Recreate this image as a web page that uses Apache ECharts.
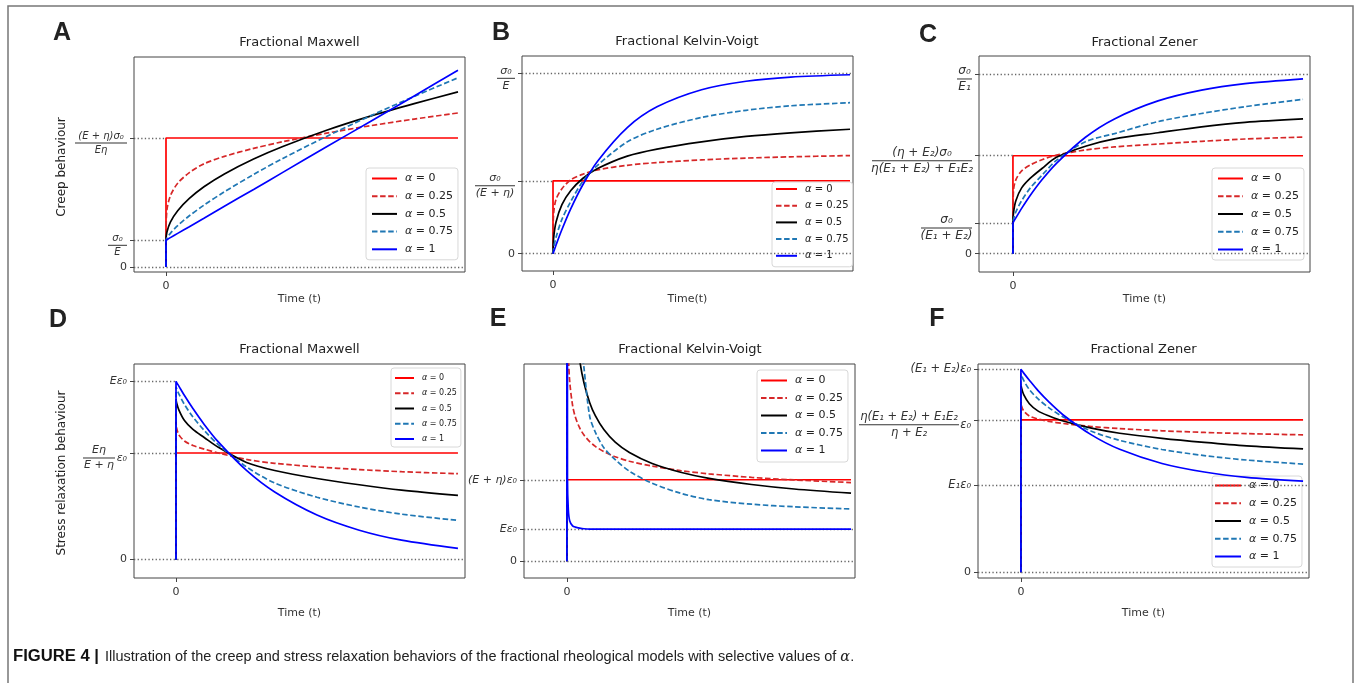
<!DOCTYPE html>
<html>
<head>
<meta charset="utf-8">
<script src="https://cdn.jsdelivr.net/npm/echarts@6/dist/echarts.min.js"></script>
<style>html,body{margin:0;padding:0;background:#fff}#c{width:1356px;height:683px}</style>
</head>
<body>
<div id="c"></div>
<script>
// ---------- data ----------
const alphas = ['α = 0', 'α = 0.25', 'α = 0.5', 'α = 0.75', 'α = 1'];

// A: creep, fractional Maxwell
const tA = [0, 0, 0.03, 0.15, 0.4, 0.8, 1.3, 2, 3, 4, 5.5, 7, 8.5, 10];
const A_a0   = [0, 4.84, 4.84, 4.84, 4.84, 4.84, 4.84, 4.84, 4.84, 4.84, 4.84, 4.84, 4.84, 4.84];
const A_a025 = [0, 1, 2.12, 2.67, 3.14, 3.54, 3.87, 4.15, 4.45, 4.70, 5.02, 5.30, 5.55, 5.78];
const A_a05  = [0, 1, 1.30, 1.68, 2.11, 2.57, 3.01, 3.49, 4.05, 4.52, 5.13, 5.66, 6.13, 6.57];
const A_a075 = [0, 1, 1.08, 1.26, 1.55, 1.92, 2.32, 2.82, 3.47, 4.07, 4.90, 5.67, 6.40, 7.10];
const A_a1   = [0, 1, 1.02, 1.10, 1.26, 1.51, 1.83, 2.28, 2.91, 3.55, 4.51, 5.46, 6.42, 7.38];
const A_ticks = [0, 1, 4.84];
const A_labels = ['0', {num: 'σ₀', den: 'E', w: 19}, {num: '(E + η)σ₀', den: 'Eη', w: 52}];
const A_guides = [[0, 1], [1, 0], [4.84, 0]];

// B: creep, fractional Kelvin-Voigt
const tB = [0, 0, 0.02, 0.1, 0.3, 0.6, 1, 1.5, 2.5, 3.5, 5, 6.5, 8, 10];
const B_a0   = [0, 0.404, 0.404, 0.404, 0.404, 0.404, 0.404, 0.404, 0.404, 0.404, 0.404, 0.404, 0.404, 0.404];
const B_a025 = [0, 0.08, 0.22, 0.30, 0.36, 0.41, 0.44, 0.465, 0.49, 0.505, 0.52, 0.53, 0.537, 0.544];
const B_a05  = [0, 0, 0.084, 0.174, 0.272, 0.35, 0.417, 0.472, 0.541, 0.58, 0.62, 0.65, 0.67, 0.69];
const B_a075 = [0, 0, 0.03, 0.09, 0.19, 0.29, 0.40, 0.49, 0.62, 0.69, 0.755, 0.795, 0.82, 0.837];
const B_a1   = [0, 0, 0.0096, 0.047, 0.134, 0.25, 0.381, 0.513, 0.699, 0.814, 0.909, 0.956, 0.979, 0.992];
const B_ticks = [0, 0.404, 1];
const B_labels = ['0', {num: 'σ₀', den: '(E + η)', w: 40}, {num: 'σ₀', den: 'E', w: 18}];
const B_guides = [[0, 1], [0.404, 0], [1, 1]];

// C: creep, fractional Zener
const tC = [0, 0, 0.02, 0.1, 0.3, 0.6, 1, 1.5, 2.5, 3.5, 5, 6.5, 8, 10];
const C_a0   = [0, 0.545, 0.545, 0.545, 0.545, 0.545, 0.545, 0.545, 0.545, 0.545, 0.545, 0.545, 0.545, 0.545];
const C_a025 = [0, 0.171, 0.353, 0.411, 0.461, 0.494, 0.523, 0.548, 0.577, 0.594, 0.610, 0.625, 0.638, 0.649];
const C_a05  = [0, 0.171, 0.229, 0.295, 0.366, 0.420, 0.474, 0.536, 0.598, 0.639, 0.673, 0.706, 0.731, 0.750];
const C_a075 = [0, 0.171, 0.192, 0.233, 0.295, 0.366, 0.436, 0.519, 0.623, 0.668, 0.735, 0.780, 0.818, 0.859];
const C_a1   = [0, 0.171, 0.177, 0.199, 0.252, 0.325, 0.411, 0.503, 0.648, 0.750, 0.850, 0.910, 0.946, 0.973];
const C_ticks = [0, 0.171, 0.545, 1];
const C_labels = ['0', {num: 'σ₀', den: '(E₁ + E₂)', w: 51},
  {num: '(η + E₂)σ₀', den: 'η(E₁ + E₂) + E₁E₂', w: 100}, {num: 'σ₀', den: 'E₁', w: 15}];
const C_guides = [[0, 1], [0.171, 0], [0.545, 0], [1, 1]];

// D: relaxation, fractional Maxwell
const tD = [0, 0, 0.02, 0.1, 0.3, 0.6, 1, 1.5, 2.5, 3.5, 5, 6.5, 8, 10];
const D_a0   = [0, 0.598, 0.598, 0.598, 0.598, 0.598, 0.598, 0.598, 0.598, 0.598, 0.598, 0.598, 0.598, 0.598];
const D_a025 = [0, 0.78, 0.74, 0.70, 0.665, 0.64, 0.62, 0.598, 0.562, 0.54, 0.52, 0.505, 0.493, 0.482];
const D_a05  = [0, 0.90, 0.88, 0.84, 0.78, 0.73, 0.685, 0.63, 0.545, 0.50, 0.455, 0.42, 0.39, 0.36];
const D_a075 = [0, 0.97, 0.96, 0.93, 0.87, 0.80, 0.725, 0.645, 0.52, 0.43, 0.35, 0.295, 0.255, 0.22];
const D_a1   = [0, 1, 0.994, 0.973, 0.920, 0.847, 0.758, 0.660, 0.500, 0.379, 0.250, 0.165, 0.109, 0.063];
const D_ticks = [0, 0.598, 1];
const D_labels = ['0', {num: 'Eη', den: 'E + η', w: 32, suf: 'ε₀', sw: 12}, 'Eε₀'];
const D_guides = [[0, 1], [0.598, 0], [1, 0]];

// E: relaxation, fractional Kelvin-Voigt
const tE = [0, 0, 0.02, 0.05, 0.1, 0.2, 0.3, 0.45, 0.6, 0.8, 1, 1.3, 1.7, 2.2, 3, 4, 5, 6.5, 8, 10];
const E_a0   = [0, 2.526, 2.526, 2.526, 2.526, 2.526, 2.526, 2.526, 2.526, 2.526, 2.526, 2.526, 2.526, 2.526, 2.526, 2.526, 2.526, 2.526, 2.526, 2.526];
const E_a025 = [0, 9, 7.81, 6.41, 5.55, 4.83, 4.46, 4.13, 3.91, 3.71, 3.56, 3.40, 3.24, 3.10, 2.95, 2.81, 2.71, 2.60, 2.52, 2.44];
const E_a05  = [0, 40, 25.8, 16.7, 12.1, 8.85, 7.41, 6.23, 5.53, 4.92, 4.51, 4.08, 3.69, 3.37, 3.03, 2.76, 2.57, 2.38, 2.24, 2.11];
const E_a075 = [0, 80, 66.7, 34, 20.6, 12.7, 9.5, 7.2, 6.0, 4.5, 4.0, 3.52, 3.15, 2.79, 2.42, 2.11, 1.91, 1.77, 1.69, 1.62];
const E_a1   = [0, 80, 2.6, 1.6, 1.25, 1.1, 1.06, 1.03, 1.01, 1, 1, 1, 1, 1, 1, 1, 1, 1, 1, 1];
const E_ticks = [0, 1, 2.526];
const E_labels = ['0', 'Eε₀', '(E + η)ε₀'];
const E_guides = [[0, 1], [1, 1], [2.526, 0]];

// F: relaxation, fractional Zener
const tF = [0, 0, 0.02, 0.1, 0.3, 0.6, 1, 1.5, 2.5, 3.5, 5, 6.5, 8, 10];
const F_a0   = [0, 0.751, 0.751, 0.751, 0.751, 0.751, 0.751, 0.751, 0.751, 0.751, 0.751, 0.751, 0.751, 0.751];
const F_a025 = [0, 0.85, 0.82, 0.795, 0.77, 0.755, 0.743, 0.733, 0.718, 0.708, 0.697, 0.689, 0.683, 0.677];
const F_a05  = [0, 0.93, 0.91, 0.875, 0.83, 0.795, 0.77, 0.745, 0.71, 0.685, 0.66, 0.64, 0.623, 0.608];
const F_a075 = [0, 0.98, 0.97, 0.945, 0.90, 0.855, 0.81, 0.765, 0.695, 0.65, 0.605, 0.575, 0.553, 0.533];
const F_a1   = [0, 1, 0.996, 0.981, 0.946, 0.896, 0.838, 0.775, 0.677, 0.606, 0.536, 0.494, 0.468, 0.449];
const F_ticks = [0, 0.428, 0.751, 1];
const F_labels = ['0', 'E₁ε₀', {num: 'η(E₁ + E₂) + E₁E₂', den: 'η + E₂', w: 100, suf: 'ε₀', sw: 12}, '(E₁ + E₂)ε₀'];
const F_guides = [[0, 1], [0.428, 1], [0.751, 0], [1, 0]];

// ---------- layout / style ----------
const FONT = 'DejaVu Sans';
const lineStyles = [
  {color: '#ff0000', type: 'solid'},
  {color: '#d62728', type: [5.5, 2.6]},
  {color: '#000000', type: 'solid'},
  {color: '#1f77b4', type: [5.5, 2.6]},
  {color: '#0000ff', type: 'solid'}
];

const panels = [
  {t: tA, ys: [A_a0, A_a025, A_a05, A_a075, A_a1], ticks: A_ticks, labels: A_labels, guides: A_guides,
   grid: {left: 134, top: 57, width: 331, height: 215}, x: [-1.096, 10.24], y: [-0.19, 7.88], fs: 10,
   xname: 'Time (t)', nameGap: 22,
   lg: {left: 366, top: 168, fs: 11, iw: 25, ih: 12, gap: 6.7, pad: [5, 5, 5, 5]}},
  {t: tB, ys: [B_a0, B_a025, B_a05, B_a075, B_a1], ticks: B_ticks, labels: B_labels, guides: B_guides,
   grid: {left: 522, top: 56, width: 331, height: 215}, x: [-1.044, 10.1], y: [-0.096, 1.096], fs: 11,
   xname: 'Time(t)', nameGap: 23,
   lg: {left: 772, top: 182, fs: 10, iw: 21, ih: 10, gap: 6.7, pad: [2, 4, 6, 3]}},
  {t: tC, ys: [C_a0, C_a025, C_a05, C_a075, C_a1], ticks: C_ticks, labels: C_labels, guides: C_guides,
   grid: {left: 979, top: 56, width: 331, height: 216}, x: [-1.17, 10.24], y: [-0.102, 1.10], fs: 12,
   xname: 'Time (t)', nameGap: 22,
   lg: {left: 1212, top: 168, fs: 11, iw: 25, ih: 12, gap: 6.75, pad: [5, 5, 5, 5]}},
  {t: tD, ys: [D_a0, D_a025, D_a05, D_a075, D_a1], ticks: D_ticks, labels: D_labels, guides: D_guides,
   grid: {left: 134, top: 364, width: 331, height: 214}, x: [-1.49, 10.25], y: [-0.103, 1.097], fs: 11,
   xname: 'Time (t)', nameGap: 30,
   lg: {left: 391, top: 368, fs: 8, iw: 19, ih: 8, gap: 7.25, pad: [6, 4, 4, 3]}},
  {t: tE, ys: [E_a0, E_a025, E_a05, E_a075, E_a1], ticks: E_ticks, labels: E_labels, guides: E_guides,
   grid: {left: 524, top: 364, width: 331, height: 214}, x: [-1.51, 10.14], y: [-0.515, 6.11], fs: 11,
   xname: 'Time (t)', nameGap: 30,
   lg: {left: 757, top: 370, fs: 11, iw: 26, ih: 12, gap: 6.5, pad: [5, 5, 6, 3]}},
  {t: tF, ys: [F_a0, F_a025, F_a05, F_a075, F_a1], ticks: F_ticks, labels: F_labels, guides: F_guides,
   grid: {left: 978, top: 364, width: 331, height: 214}, x: [-1.52, 10.21], y: [-0.028, 1.026], fs: 11.5,
   xname: 'Time (t)', nameGap: 30,
   lg: {left: 1212, top: 476, fs: 11, iw: 26, ih: 12, gap: 6.75, pad: [4, 5, 5, 2]}}
];

function axisLabels(vals, texts, fs) {
  const col = '#333';
  const base = {fontFamily: FONT, fontSize: fs, color: col};
  const ital = Object.assign({}, base, {fontStyle: 'italic'});
  const rich = {
    z: Object.assign({}, base, {fontSize: 11}),
    m: Object.assign({}, ital),
    s: {fontSize: 1, lineHeight: 10, width: 1}
  };
  const strs = texts.map((tx, i) => {
    if (typeof tx === 'string') return tx === '0' ? '{z|0}' : '{m|' + tx + '}';
    rich['n' + i] = Object.assign({}, ital, {width: tx.w, align: 'center', lineHeight: fs});
    rich['d' + i] = Object.assign({}, ital, {width: tx.w, align: 'center', lineHeight: fs});
    rich['b' + i] = {width: tx.w, height: 1, lineHeight: 4, fontSize: 1, backgroundColor: col};
    let g = '', e = '';
    if (tx.suf) {
      rich['g' + i] = {width: tx.sw, fontSize: 1, lineHeight: fs};
      rich['e' + i] = Object.assign({}, ital, {width: tx.sw, lineHeight: 4});
      g = '{g' + i + '| }';
      e = '{e' + i + '|' + tx.suf + '}';
    }
    return '{s| }\n{n' + i + '|' + tx.num + '}' + g + '\n{b' + i + '| }' + e + '\n{d' + i + '|' + tx.den + '}' + g;
  });
  return {
    rich: rich,
    formatter: function (v) {
      const i = vals.findIndex(x => Math.abs(x - v) < 1e-6);
      return i < 0 ? '' : strs[i];
    }
  };
}

const grids = [], xAxes = [], yAxes = [], legends = [], series = [];
panels.forEach((p, i) => {
  grids.push(Object.assign({show: true, borderColor: '#444', borderWidth: 1, backgroundColor: 'transparent',
    containLabel: false, outerBoundsMode: 'none'}, p.grid));
  xAxes.push({
    type: 'value', gridIndex: i, min: p.x[0], max: p.x[1],
    axisLine: {show: false, onZero: false}, splitLine: {show: false},
    axisTick: {customValues: [0], length: 4, lineStyle: {color: '#444'}},
    axisLabel: {customValues: [0], formatter: () => '0', fontFamily: FONT, fontSize: 11, color: '#333', margin: 9},
    name: p.xname, nameLocation: 'middle', nameGap: p.nameGap,
    nameTextStyle: {fontFamily: FONT, fontSize: 11, color: '#333'}
  });
  const al = axisLabels(p.ticks, p.labels, p.fs);
  yAxes.push({
    type: 'value', gridIndex: i, min: p.y[0], max: p.y[1],
    axisLine: {show: false, onZero: false}, splitLine: {show: false},
    axisTick: {customValues: p.ticks, length: 4, lineStyle: {color: '#444'}},
    axisLabel: {customValues: p.ticks, formatter: al.formatter, rich: al.rich, margin: 7,
      fontFamily: FONT, fontSize: p.fs, color: '#333'}
  });
  legends.push({
    data: alphas, orient: 'vertical', left: p.lg.left, top: p.lg.top,
    itemWidth: p.lg.iw, itemHeight: p.lg.ih, itemGap: p.lg.gap, padding: p.lg.pad,
    backgroundColor: 'rgba(255,255,255,0.8)', borderColor: '#d8d8d8', borderWidth: 1, borderRadius: 3,
    selectedMode: false,
    itemStyle: {opacity: 0},
    formatter: n => '{a|α}' + n.slice(1),
    textStyle: {fontFamily: FONT, fontSize: p.lg.fs, color: '#222', padding: [0, 0, 0, 3],
      rich: {a: {fontFamily: FONT, fontStyle: 'italic', fontSize: p.lg.fs, color: '#222'}}}
  });
  p.ys.forEach((vals, k) => {
    const s = {
      type: 'line', name: alphas[k], xAxisIndex: i, yAxisIndex: i,
      data: p.t.map((t, j) => [t, vals[j]]),
      symbol: 'none', smooth: k === 0 ? false : 0.3, clip: true, silent: true,
      lineStyle: {color: lineStyles[k].color, type: lineStyles[k].type, width: 1.7},
      itemStyle: {color: lineStyles[k].color},
      z: 2 + k
    };
    if (k === 0) {
      s.markLine = {
        silent: true, symbol: ['none', 'none'], label: {show: false}, animation: false,
        lineStyle: {color: '#666', type: [1.3, 2.3], width: 1.3},
        data: p.guides.map(g => [{coord: [p.x[0], g[0]]}, {coord: [g[1] ? p.x[1] : 0, g[0]]}])
      };
    }
    series.push(s);
  });
});

function txt(x, y, text, font, extra) {
  return Object.assign({type: 'text', x: x, y: y, silent: true,
    style: {text: text, font: font, fill: '#222', align: 'center', verticalAlign: 'middle',
      textAlign: 'center', textVerticalAlign: 'middle'}}, extra || {});
}
const titleFont = '13px "DejaVu Sans"';
const letterFont = 'bold 25px "Liberation Sans"';
const graphics = [
  {type: 'rect', shape: {x: 8, y: 6, width: 1345, height: 720}, silent: true,
   style: {fill: 'none', stroke: '#777', lineWidth: 1.5}},
  txt(62, 33, 'A', letterFont), txt(501, 33, 'B', letterFont), txt(928, 35, 'C', letterFont),
  txt(58, 320, 'D', letterFont), txt(498, 319, 'E', letterFont), txt(937, 319, 'F', letterFont),
  txt(299.5, 43, 'Fractional Maxwell', titleFont), txt(687, 42, 'Fractional Kelvin-Voigt', titleFont),
  txt(1144.5, 43, 'Fractional Zener', titleFont),
  txt(299.5, 350, 'Fractional Maxwell', titleFont), txt(690, 350, 'Fractional Kelvin-Voigt', titleFont),
  txt(1143.5, 350, 'Fractional Zener', titleFont),
  txt(62, 167, 'Creep behaviour', '12px "DejaVu Sans"', {rotation: Math.PI / 2}),
  txt(62, 473, 'Stress relaxation behaviour', '12px "DejaVu Sans"', {rotation: Math.PI / 2}),
  {type: 'text', x: 13, y: 657, silent: true, scaleX: 1.04,
   style: {text: 'FIGURE 4 |', font: 'bold 16px "Liberation Sans"', fill: '#111',
     verticalAlign: 'middle', textVerticalAlign: 'middle'}},
  {type: 'text', x: 105, y: 657, silent: true, scaleX: 0.966,
   style: {text: 'Illustration of the creep and stress relaxation behaviors of the fractional rheological models with selective values of {i|α}.',
     font: '15px "Liberation Sans"', fill: '#222', verticalAlign: 'middle', textVerticalAlign: 'middle',
     rich: {i: {fontStyle: 'italic', fontFamily: 'DejaVu Serif', fontSize: 15, color: '#222'}}}}
];

const chart = echarts.init(document.getElementById('c'), null, {renderer: 'canvas', width: 1356, height: 683});
chart.setOption({
  animation: false,
  backgroundColor: '#ffffff',
  textStyle: {fontFamily: FONT},
  grid: grids, xAxis: xAxes, yAxis: yAxes, legend: legends, series: series, graphic: graphics
});
</script>
</body>
</html>
